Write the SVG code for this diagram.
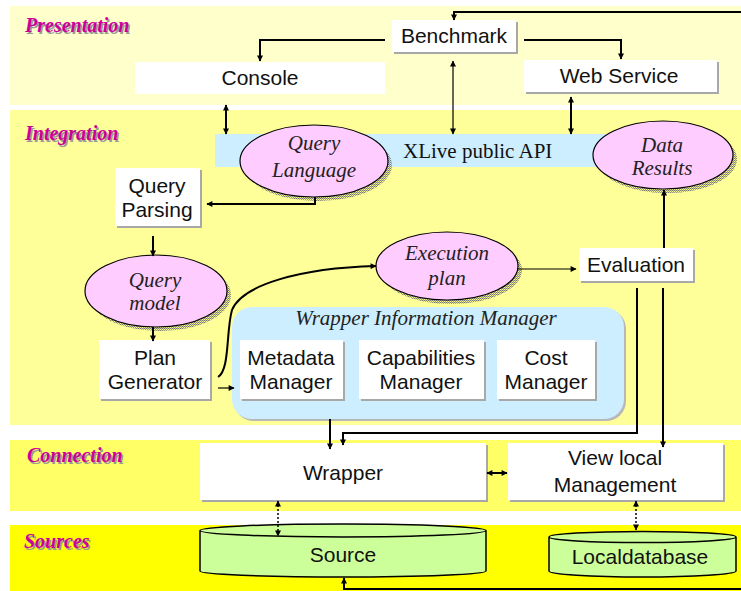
<svg xmlns="http://www.w3.org/2000/svg" width="741" height="591" viewBox="0 0 741 591">
  <style>
    .layer { font-family: "Liberation Serif", serif; font-weight: bold; font-style: italic; font-size: 20px; }
    .layer-fg { fill: #CC0099; }
    .layer-bg { fill: #9a9a9a; }
    .box { fill: #ffffff; }
    .boxsh { fill: #a8a8a8; }
    .t { font-family: "Liberation Sans", Arial, sans-serif; font-size: 21px; fill: #111; text-anchor: middle; }
    .it { font-family: "Liberation Serif", serif; font-style: italic; font-size: 21px; fill: #222; text-anchor: middle; }
    .sf { font-family: "Liberation Serif", serif; font-size: 21px; fill: #111; }
    .ell { fill: #FFCCFF; stroke: #000; stroke-width: 1.2; }
    .ellsh { fill: url(#dither); }
    .cyl { fill: #CCFF99; stroke: #000; stroke-width: 1.5; }
    .blue { fill: #CCEEFF; }
    .c { fill: none; stroke: #000; stroke-width: 2; }
    .thin { stroke-width: 1.2; }
    .dash { stroke-width: 1.5; stroke-dasharray: 2 2; }
  </style>
  <defs>
    <pattern id="dither" width="2" height="2" patternUnits="userSpaceOnUse">
      <rect x="0" y="0" width="1" height="1" fill="#777"/>
      <rect x="1" y="1" width="1" height="1" fill="#999"/>
      <rect x="1" y="0" width="1" height="1" fill="#c8c4a0"/>
    </pattern>
    <marker id="ah" viewBox="0 0 10 10" refX="9" refY="5" markerWidth="7" markerHeight="6" markerUnits="userSpaceOnUse" orient="auto-start-reverse">
      <path d="M0,0 L10,5 L0,10 z" fill="#000"/>
    </marker>
  </defs>

  <!-- layer bands -->
  <rect x="10" y="6" width="731" height="99" fill="#FFFFCC"/>
  <rect x="10" y="110" width="731" height="315" fill="#FFFF99"/>
  <rect x="10" y="440" width="731" height="71" fill="#FFFF66"/>
  <rect x="10" y="525" width="731" height="66" fill="#FFFF00"/>

  <g id="layer-labels" class="layer">
    <text class="layer-bg" x="26.5" y="33.5">Presentation</text>
    <text class="layer-fg" x="25" y="32">Presentation</text>
    <text class="layer-bg" x="26.5" y="141.5">Integration</text>
    <text class="layer-fg" x="25" y="140">Integration</text>
    <text class="layer-bg" x="28.5" y="463.5">Connection</text>
    <text class="layer-fg" x="27" y="462">Connection</text>
    <text class="layer-bg" x="25.5" y="549.5">Sources</text>
    <text class="layer-fg" x="24" y="548">Sources</text>
  </g>

  <!-- Presentation -->
  <g id="benchmark">
    <rect class="boxsh" x="394" y="22" width="124" height="32"/>
    <rect class="box" x="392" y="20" width="124" height="32"/>
    <text class="t" x="454" y="43">Benchmark</text>
  </g>
  <g id="console">
    <rect class="box" x="135" y="62" width="250" height="32"/>
    <text class="t" x="260" y="85">Console</text>
  </g>
  <g id="web-service">
    <rect class="boxsh" x="526" y="62" width="193" height="32"/>
    <rect class="box" x="524" y="60" width="193" height="32"/>
    <text class="t" x="619" y="83">Web Service</text>
  </g>

  <!-- Integration -->
  <g id="xlive-api">
    <rect class="blue" x="215" y="134" width="430" height="33"/>
    <text class="sf" x="403" y="158">XLive public API</text>
  </g>
  <g id="query-language">
    <ellipse class="ellsh" cx="318" cy="165" rx="74" ry="36"/>
    <ellipse class="ell" cx="314" cy="161" rx="74" ry="36"/>
    <text class="it" x="314" y="150">Query</text>
    <text class="it" x="314" y="177">Language</text>
  </g>
  <g id="data-results">
    <ellipse class="ellsh" cx="667" cy="159" rx="70" ry="34"/>
    <ellipse class="ell" cx="663" cy="155" rx="70" ry="34"/>
    <text class="it" x="662" y="152">Data</text>
    <text class="it" x="662" y="175">Results</text>
  </g>
  <g id="query-parsing">
    <rect class="boxsh" x="117" y="170" width="85" height="58"/>
    <rect class="box" x="115" y="168" width="85" height="58"/>
    <text class="t" x="157" y="193">Query</text>
    <text class="t" x="157" y="217">Parsing</text>
  </g>
  <g id="query-model">
    <ellipse class="ellsh" cx="160" cy="295" rx="71" ry="36"/>
    <ellipse class="ell" cx="156" cy="291" rx="71" ry="36"/>
    <text class="it" x="155" y="287">Query</text>
    <text class="it" x="155" y="310">model</text>
  </g>
  <g id="plan-generator">
    <rect class="boxsh" x="101" y="342" width="111" height="59"/>
    <rect class="box" x="99" y="340" width="111" height="59"/>
    <text class="t" x="155" y="365">Plan</text>
    <text class="t" x="155" y="389">Generator</text>
  </g>
  <g id="wrapper-information-manager">
    <rect x="234" y="309" width="392" height="112" rx="20" fill="#b8b8b8"/>
    <rect class="blue" x="232" y="307" width="392" height="112" rx="20"/>
    <text class="it" x="426" y="325">Wrapper Information Manager</text>
  </g>
  <g id="metadata-manager">
    <rect class="boxsh" x="242" y="342" width="103" height="59"/>
    <rect class="box" x="240" y="340" width="103" height="59"/>
    <text class="t" x="291" y="365">Metadata</text>
    <text class="t" x="291" y="389">Manager</text>
  </g>
  <g id="capabilities-manager">
    <rect class="boxsh" x="361" y="342" width="125" height="59"/>
    <rect class="box" x="359" y="340" width="125" height="59"/>
    <text class="t" x="421" y="365">Capabilities</text>
    <text class="t" x="421" y="389">Manager</text>
  </g>
  <g id="cost-manager">
    <rect class="boxsh" x="499" y="342" width="98" height="59"/>
    <rect class="box" x="497" y="340" width="98" height="59"/>
    <text class="t" x="546" y="365">Cost</text>
    <text class="t" x="546" y="389">Manager</text>
  </g>
  <g id="execution-plan">
    <ellipse class="ellsh" cx="451" cy="270" rx="71" ry="34"/>
    <ellipse class="ell" cx="447" cy="266" rx="71" ry="34"/>
    <text class="it" x="447" y="260">Execution</text>
    <text class="it" x="447" y="285">plan</text>
  </g>
  <g id="evaluation">
    <rect class="boxsh" x="581" y="250" width="114" height="33"/>
    <rect class="box" x="579" y="248" width="114" height="33"/>
    <text class="t" x="636" y="272">Evaluation</text>
  </g>

  <!-- Connection -->
  <g id="wrapper">
    <rect class="boxsh" x="202" y="445" width="286" height="57"/>
    <rect class="box" x="200" y="443" width="286" height="57"/>
    <text class="t" x="343" y="480">Wrapper</text>
  </g>
  <g id="view-local-management">
    <rect class="boxsh" x="510" y="445" width="215" height="57"/>
    <rect class="box" x="508" y="443" width="215" height="57"/>
    <text class="t" x="615" y="465">View local</text>
    <text class="t" x="615" y="492">Management</text>
  </g>

  <!-- Sources -->
  <g id="source">
    <path class="cyl" d="M200,530.5 V571 A143,6 0 0 0 486,571 V530.5 A143,6.5 0 0 0 200,530.5 A143,6.5 0 0 0 486,530.5"/>
    <text class="t" x="343" y="562">Source</text>
  </g>
  <g id="localdatabase">
    <path class="cyl" d="M549,537 V571 A93.5,6 0 0 0 736,571 V537 A93.5,5.5 0 0 0 549,537 A93.5,5.5 0 0 0 736,537"/>
    <text class="t" x="640" y="564">Localdatabase</text>
  </g>

  <!-- connectors -->
  <g id="connectors">
    <path class="c" d="M385,40 H260 V61" marker-end="url(#ah)"/>
    <path class="c" d="M524,40 H621 V59" marker-end="url(#ah)"/>
    <path class="c thin" d="M453,61 V134" marker-start="url(#ah)" marker-end="url(#ah)"/>
    <path class="c" d="M571,97 V134" marker-start="url(#ah)" marker-end="url(#ah)"/>
    <path class="c" d="M226,105 V134" marker-start="url(#ah)" marker-end="url(#ah)"/>
    <path class="c" d="M344,578 V589 H760 V12 H454 V20" marker-start="url(#ah)" marker-end="url(#ah)"/>
    <path class="c" d="M315,197 V204 H207" marker-end="url(#ah)"/>
    <path class="c" d="M153,236 V256" marker-end="url(#ah)"/>
    <path class="c" d="M153,327 V341" marker-end="url(#ah)"/>
    <path class="c" d="M218,377 C230,370 226,330 232,310 C242,285 300,268 376,266" marker-end="url(#ah)"/>
    <path class="c thin" d="M218,388 H234" marker-end="url(#ah)"/>
    <path class="c thin" d="M518,269 H576" marker-end="url(#ah)"/>
    <path class="c" d="M664,248 V190" marker-end="url(#ah)"/>
    <path class="c" d="M637,288 V433 H343 V445" marker-end="url(#ah)"/>
    <path class="c" d="M663,288 V447" marker-end="url(#ah)"/>
    <path class="c" d="M330,419 V449" marker-end="url(#ah)"/>
    <path class="c" d="M487,473 H507" marker-start="url(#ah)" marker-end="url(#ah)"/>
    <path class="c dash" d="M278,501 V536" marker-start="url(#ah)" marker-end="url(#ah)"/>
    <path class="c dash" d="M636,501 V530" marker-start="url(#ah)" marker-end="url(#ah)"/>
  </g>
</svg>
